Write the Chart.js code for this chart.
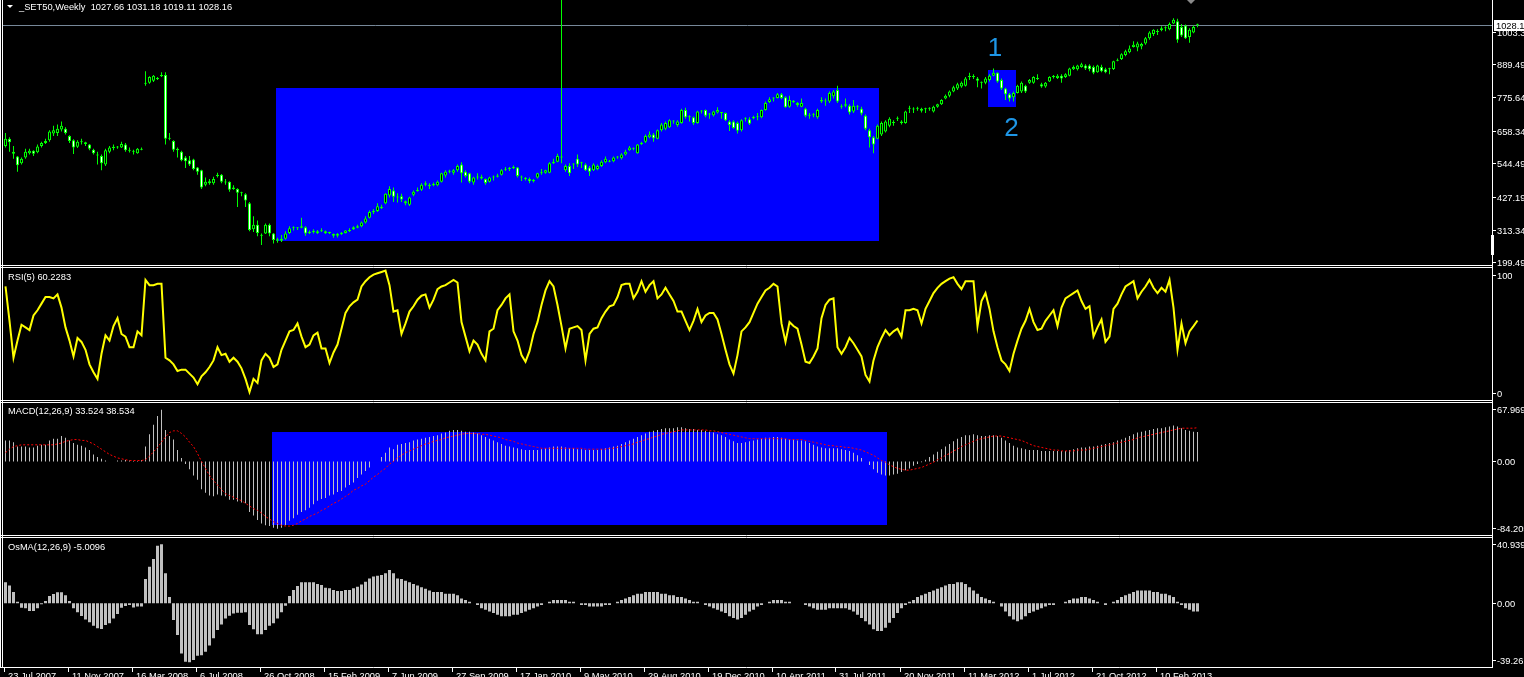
<!DOCTYPE html>
<html>
<head>
<meta charset="utf-8">
<script src="https://cdn.jsdelivr.net/npm/chart.js"></script>
<style>
  html, body { margin: 0; padding: 0; background: #000; overflow: hidden; }
  .pane { position: absolute; left: 0; width: 1524px; }
  canvas { display: block; }
</style>
</head>
<body>
  <div class="pane" style="top:0;height:266px"><canvas id="mainChart" width="1524" height="266"></canvas></div>
  <div class="pane" style="top:266px;height:136px"><canvas id="rsiChart" width="1524" height="136"></canvas></div>
  <div class="pane" style="top:402px;height:134px"><canvas id="macdChart" width="1524" height="134"></canvas></div>
  <div class="pane" style="top:536px;height:141px"><canvas id="osmaChart" width="1524" height="141"></canvas></div>
<script>
// weekly SET50 bars (one value per week)
var dateLabels = ['23 Jul 2007', '11 Nov 2007', '16 Mar 2008', '6 Jul 2008', '26 Oct 2008', '15 Feb 2009',
  '7 Jun 2009', '27 Sep 2009', '17 Jan 2010', '9 May 2010', '29 Aug 2010', '19 Dec 2010', '10 Apr 2011',
  '31 Jul 2011', '20 Nov 2011', '11 Mar 2012', '1 Jul 2012', '21 Oct 2012', '10 Feb 2013'];

var opens = [
  605,630,585,568,545,565,580,588,583,605, 615,625,648,650,662,665,640,625,602,620,
  618,610,592,575,570,540,585,598,600,600, 610,588,588,580,592,825,825,832,842,848,
  852,630,622,595,585,565,555,558,530,520, 470,475,475,500,505,480,480,455,455,442,
  437,405,315,330,295,300,330,300,275,275, 282,302,318,320,320,322,302,306,302,308,
  308,302,298,292,298,302,308,315,320,325, 338,355,375,378,392,405,432,450,428,430,
  412,400,435,448,452,470,470,468,468,480, 502,515,512,520,540,515,510,478,495,492,
  490,480,495,498,505,522,525,528,530,497, 492,490,482,495,510,512,512,545,550,565,
  520,535,540,560,545,540,530,520,525,535, 548,552,552,565,562,575,590,597,580,612,
  620,635,645,630,660,665,670,690,678,685, 730,705,705,685,725,730,715,712,722,720,
  720,690,690,685,660,700,698,702,705,705, 730,758,770,772,785,775,742,758,755,742,
  735,710,712,705,760,760,760,778,800,742, 745,745,725,740,735,710,660,635,630,645,
  655,675,685,700,685,685,735,732,735,728, 733,735,725,742,750,770,780,795,805,812,
  815,845,845,840,825,825,835,850,860,835, 805,785,775,790,795,815,825,825,838,820,
  812,830,845,842,850,845,850,872,872,880, 885,885,880,862,880,872,872,873,902,908,
  922,932,950,948,952,962,980,995,1002,1008, 1015,1012,1032,1040,1020,1025,985,1000,1027.66];

var highs = [
  650,635,605,570,565,595,595,590,610,620, 630,660,675,680,690,670,642,628,625,630,
  620,612,595,585,575,595,605,610,605,620, 615,600,592,598,600,865,848,852,845,862,
  862,650,625,600,588,570,570,560,532,522, 495,490,498,512,507,490,482,468,458,445,
  440,410,360,345,300,335,335,302,285,295, 308,325,325,322,355,325,310,315,312,318,
  310,306,300,302,305,312,318,325,330,342, 360,380,385,405,400,440,465,460,440,438,
  415,428,450,460,475,482,475,478,485,512, 520,522,525,540,548,520,512,498,510,505,
  492,498,502,508,525,532,532,537,532,502, 497,495,490,512,525,522,548,560,578,1400,
  540,545,545,575,550,545,535,545,540,555, 568,556,568,570,580,592,605,600,612,620,
  645,655,650,662,685,690,698,695,695,735, 738,712,708,728,730,732,720,728,740,722,
  722,695,695,690,698,705,705,710,720,732, 760,775,775,790,790,778,780,765,758,770,
  738,720,720,735,775,770,795,800,815,750, 770,750,765,748,742,715,665,640,680,690,
  695,705,695,708,695,728,745,740,742,738, 738,740,745,752,768,784,798,815,825,830,
  845,860,855,845,830,845,855,875,862,840, 808,790,795,818,830,818,838,848,855,825,
  828,848,852,855,855,858,878,885,888,895, 890,890,885,888,888,878,878,902,910,928,
  940,955,970,968,965,985,1005,1012,1012,1022, 1022,1035,1050,1048,1030,1028,1015,1025,1031.18];

var lows = [
  600,585,560,515,540,560,575,570,580,600, 612,620,640,640,655,645,615,577,598,610,
  605,590,575,540,520,535,580,590,595,598, 585,582,575,578,590,815,822,828,835,845,
  610,625,585,565,552,528,535,520,505,455, 465,470,470,495,475,470,445,452,392,430,
  392,308,305,290,260,298,290,265,268,270, 278,298,310,312,318,292,298,300,298,305,
  298,298,285,286,295,300,305,312,318,322, 335,352,368,375,385,402,425,410,408,410,
  398,396,430,445,448,465,455,465,465,478, 495,510,505,515,478,495,475,470,488,488,
  470,478,485,495,502,518,518,525,495,483, 485,475,478,492,505,508,510,542,548,545,
  515,500,525,532,528,518,500,518,520,532, 545,548,548,560,558,572,588,590,578,608,
  615,632,620,628,655,660,668,682,672,682, 700,690,678,682,718,705,700,708,718,700,
  692,657,665,648,655,690,678,698,695,702, 728,755,760,770,768,738,738,755,742,740,
  705,700,705,700,755,745,755,770,755,735, 740,715,720,730,712,660,600,580,628,640,
  652,670,675,692,680,682,720,720,728,722, 720,728,722,738,748,768,775,792,800,808,
  812,835,838,810,805,820,830,848,825,800, 765,760,760,788,790,790,822,822,835,808,
  808,828,840,838,825,842,848,870,868,878, 870,865,855,860,862,858,855,870,900,905,
  918,928,948,935,942,958,975,988,992,1005, 1005,1008,1030,965,985,978,965,998,1019.11];

var closes = [
  630,618,578,538,560,585,588,578,603,615, 622,655,660,665,675,650,622,600,620,618,
  612,595,580,572,545,590,600,602,600,612, 590,592,585,595,595,822,845,850,838,852,
  630,630,592,590,555,552,540,525,515,460, 480,482,490,505,480,478,452,460,442,440,
  415,312,330,302,292,330,300,277,280,282, 300,318,320,318,325,300,306,305,308,310,
  302,303,292,298,302,310,312,322,325,338, 352,375,378,395,388,438,455,428,425,418,
  405,425,445,450,470,475,465,472,480,510, 515,515,520,535,510,500,480,495,495,498,
  476,495,496,502,520,525,525,530,500,495, 490,482,486,510,510,520,545,550,570,565,
  535,510,540,540,545,520,515,540,535,550, 560,550,565,565,575,585,600,595,610,615,
  640,645,632,660,680,685,695,690,690,730, 705,705,685,725,725,710,715,725,730,720,
  695,678,668,658,695,700,682,706,705,730, 755,768,770,785,772,740,765,760,748,755,
  710,710,712,730,765,762,790,795,760,742, 750,722,745,740,718,665,635,610,675,685,
  690,700,688,700,690,725,735,733,735,735, 733,735,742,750,765,780,795,810,820,825,
  840,845,845,832,825,840,850,860,830,805, 785,770,790,815,825,795,835,845,842,812,
  825,845,845,850,840,855,875,880,885,890, 875,872,860,885,865,862,873,900,905,925,
  935,945,958,962,960,980,1000,1010,1005,1015, 1015,1030,1045,975,990,980,1010,1020,1028.16];

var rsiValues = [
  86,60,32,45,57,55,53,64,68,73, 78,78,77,80,70,55,45,33,47,44,
  38,27,21,16,35,49,45,56,62,50, 48,40,40,52,49,91,87,87,88,88,
  32,30,27,22,23,23,20,17,12,18, 21,25,30,40,34,35,29,32,29,24,
  16,6,16,13,30,35,32,25,27,38, 45,52,53,58,48,40,42,49,51,39,
  39,28,36,42,54,66,71,74,76,86, 90,93,95,96,97,98,87,67,68,50,
  58,67,71,76,79,80,70,76,84,86, 87,89,91,89,59,48,37,45,42,35,
  30,52,54,68,72,77,80,52,45,34, 29,37,50,59,72,83,90,86,72,56,
  39,54,55,56,53,30,50,54,55,62, 67,71,72,78,87,88,88,77,82,90,
  82,87,90,77,80,85,80,75,67,67, 60,53,60,69,59,64,66,66,61,50,
  38,27,20,34,52,55,59,66,73,78, 83,85,88,86,58,44,59,56,54,42,
  29,28,33,39,62,72,76,77,40,35, 40,47,43,38,33,19,14,30,40,47,
  53,49,52,54,48,68,68,69,68,58, 69,75,81,85,88,90,92,93,88,84,
  90,90,90,56,75,81,69,52,40,30, 27,22,35,45,54,60,69,59,53,54,
  60,64,68,56,70,77,79,81,83,75, 69,71,48,55,61,44,48,69,73,80,
  86,88,90,77,82,86,91,85,81,85, 82,91,70,38,58,43,52,56,60.2283];

var macdValues = [
  24,24,22,17,17,17,16,16,18,19, 19,24,26,26,29,27,24,21,19,18,
  16,13,8,5,3,1,0,0,1,1, 1.5,1,0.5,0.5,1.5,17,31,42,52,59,
  36,29,25,13,4,-3,-9,-16,-21,-32, -36,-39,-40,-38,-39,-40,-44,-44,-46,-47,
  -48,-58,-62,-67,-71,-73,-74,-76,-77,-76, -73,-68,-65,-61,-58,-56,-53,-49,-45,-43,
  -42,-39,-38,-35,-34,-30,-27,-24,-19,-15, -11,-7,0,0,5,10,16,14,19,20,
  21,22,24,25,26,27,28,29,30,32, 33,35,36,36,35,34,34,33,32,30,
  28,26,24,22,20,18,17,16,15,14, 13,13,13,13,14,15,16,17,17,17,
  16,15,15,14,14,13,13,13,13,14, 15,16,17,18,20,22,24,26,28,30,
  32,34,35,36,37,38,38,38,39,39, 38,37,37,36,36,35,34,33,31,30,
  28,25,23,21,21,22,23,24,25,26, 27,27,28,28,27,26,25,25,24,24,
  23,21,19,17,16,15,15,15,15,14, 13,12,10,7,4,0,-4,-9,-13,-15,
  -16,-16,-15,-14,-12,-10,-8,-5,-3,-1, 2,5,8,11,14,17,20,23,26,28,
  30,30,31,30,29,29,30,30,29,27, 24,21,18,16,15,14,13,13,13,12,
  12,12,12,12,12,12,13,14,15,16, 16,17,17,18,19,20,21,22,24,25,
  27,29,31,33,34,35,36,37,38,38, 39,40,41,40,38,36,35,34,33.524];

var signalValues = [
  10,14,17,18,19,19,19,19,19,19, 19,19,19,20,21,23,24,25,25,24,
  24,22,20,17,14,11,8,6,4,3, 2,1,1,1,1,2,6,11,16,22,
  28,33,35,35,32,28,22,17,9,0, -8,-16,-22,-27,-32,-37,-39,-41,-43,-45,
  -48,-51,-54,-56,-59,-63,-66,-69,-71,-73, -74,-74,-73,-71,-68,-66,-63,-61,-59,-56,
  -54,-51,-48,-46,-43,-40,-37,-33,-31,-28, -26,-22,-18,-15,-11,-8,-3,0,4,7,
  10,12,14,16,18,20,21,23,24,25, 27,28,29,30,31,32,32,32,32,31,
  31,30,29,28,27,25,24,23,21,20, 19,18,17,16,15,15,15,15,15,15,
  15,15,15,15,15,14,14,14,14,14, 14,15,15,16,17,18,19,20,22,23,
  25,26,28,29,31,32,33,34,35,36, 36,36,36,36,36,36,35,35,34,33,
  32,31,30,29,28,27,26,26,26,26, 26,26,26,26,26,26,25,25,25,25,
  24,23,22,21,20,19,18,18,17,17, 16,16,15,14,13,11,9,7,4,1,
  -1,-4,-6,-8,-9,-10,-10,-9,-8,-7, -5,-3,-1,2,4,7,9,12,14,17,
  19,21,23,25,26,27,28,29,29,29, 28,27,26,25,24,22,20,18,17,16,
  15,14,13,13,12,12,12,12,13,13, 13,14,15,16,17,18,19,20,21,22,
  23,24,25,27,28,29,30,31,32,33, 34,35,36,37,38,38,38,38,38.534];

var osmaValues = [
  13,11,7,1,-2.7,-3,-4.7,-4.7,-3,-0.6, 1.4,4.5,5.8,6.8,6.8,5,1.4,-3,-5.5,-7.8,
  -10,-11.7,-13.8,-15.4,-15.8,-13.4,-12.3,-9.3,-6.6,-2.7, -1.6,-1,-2.5,-2,-2,15,22.6,27.4,35.6,36.4,
  18.5,4,-10.3,-19.5,-30.9,-36,-36.4,-35,-32.3,-32, -29.8,-26,-21.6,-16.5,-13,-9.3,-7.6,-6.2,-5.8,-5.8,
  -5.5,-13.4,-16,-19,-19,-16.5,-13.8,-12.3,-9.3,-5.5, -1.4,4.5,8.2,10.7,13,13,13,13,12,11.3,
  9.7,9.3,8.2,7.6,7.6,8.2,8.2,9.3,10.3,11.7, 13.4,15.4,16.5,17,17.5,18.5,20.6,18.5,15.4,15,
  14,13,12,11,10,9,8,7,7,7, 6,6,6,5,3,2,1,0,-1,-3,
  -4,-5,-6,-7,-8,-8,-8,-7,-7,-6, -5,-4,-3,-2,-1,0,1,2,2,2,
  2,1,1,0,-1,-1,-2,-2,-2,-2, -1,-1,0,1,2,3,4,5,6,6,
  7,7,7,7,6,6,5,5,4,4, 3,2,1,1,0,-1,-2,-3,-4,-5,
  -6,-8,-9,-10,-9,-7,-5,-4,-2,-1, 0,1,2,2,2,1,1,0,0,0,
  -1,-2,-3,-4,-4,-4,-3,-3,-3,-3, -3,-4,-5,-7,-9,-11,-13,-16,-17,-17,
  -15,-12,-9,-6,-3,-1,1,2,4,5, 6,7,8,9,10,11,12,12,13,13,
  12,10,8,6,4,3,2,1,0,-2, -5,-8,-10,-11,-10,-8,-6,-5,-4,-3,
  -2,-1,-1,0,0,1,2,3,3,4, 4,3,2,1,0,-1,0,1,2,4,
  5,6,7,8,8,8,8,7,7,6, 6,5,4,1,-1,-3,-4,-5,-5.0096];

// right-hand scale labels
var priceTicks = [1003.3, 889.49, 775.64, 658.34, 544.49, 427.19, 313.34, 199.49];
var priceTickLabels = ['1003.3', '889.49', '775.64', '658.34', '544.49', '427.19', '313.34', '199.49'];
var rsiTicks = [100, 0];
var rsiTickLabels = ['100', '0'];
var macdTicks = [67.969, 0, -84.205];
var macdTickLabels = ['67.969', '0.00', '-84.205'];
var osmaTicks = [40.939, 0, -39.261];
var osmaTickLabels = ['40.939', '0.00', '-39.261'];

// drawn objects on the chart (bar index / value space)
var priceBoxes = [{ from: 67.6, to: 218.4, high: 808, low: 274 }, { from: 245.6, to: 252.6, high: 870, low: 741 }];
var macdBoxes = [{ from: 66.6, to: 220.4, high: 33.6, low: -72.8 }];
var waveMarks = [{ text: '1', idx: 247.4, value: 950 }, { text: '2', idx: 251.5, value: 673 }];

var SLOTS = 372; // MT4 leaves empty space at the right
var slots = [];
for (var s = 0; s < SLOTS; s++) slots.push(s);

var FONT = '9.3px "Liberation Sans", Arial, sans-serif';
var LIME = '#00ff00';
var TEXT = '#ffffff';
var last = closes.length - 1;

// white pane frames (page coordinates, translated per canvas)
function drawFrame(chart, top) {
  var ctx = chart.ctx;
  ctx.save();
  ctx.strokeStyle = '#ffffff';
  ctx.lineWidth = 1;
  ctx.beginPath();
  [265.5, 267.5, 400.5, 402.5, 535.5, 537.5, 667.5].forEach(function (y) {
    ctx.moveTo(0, y - top); ctx.lineTo(1493, y - top);
  });
  [0.5, 2.5, 1492.5].forEach(function (x) {
    ctx.moveTo(x, -top); ctx.lineTo(x, 668 - top);
  });
  ctx.stroke();
  ctx.restore();
}

function drawScaleLabels(chart, ticks, labels, margin) {
  var ctx = chart.ctx, area = chart.chartArea, y = chart.scales.y;
  ctx.save();
  ctx.font = FONT;
  ctx.fillStyle = TEXT;
  ctx.textAlign = 'left';
  ctx.textBaseline = 'middle';
  ticks.forEach(function (v, k) {
    var py = Math.round(y.getPixelForValue(v));
    py = Math.min(Math.max(py, area.top + margin), area.bottom - margin);
    ctx.fillRect(1493, py, 3, 1);
    ctx.fillText(labels[k], 1497, py + 1);
  });
  ctx.restore();
}

function drawTitle(chart, text, x, y) {
  var ctx = chart.ctx;
  ctx.save();
  ctx.font = FONT;
  ctx.fillStyle = TEXT;
  ctx.textAlign = 'left';
  ctx.textBaseline = 'middle';
  ctx.fillText(text, x, y);
  ctx.restore();
}

function drawBoxes(chart, boxes) {
  var ctx = chart.ctx, x = chart.scales.x, y = chart.scales.y;
  ctx.save();
  ctx.fillStyle = '#0000ff';
  boxes.forEach(function (b) {
    var x1 = Math.round(x.getPixelForValue(b.from)), x2 = Math.round(x.getPixelForValue(b.to));
    var y1 = Math.round(y.getPixelForValue(b.high)), y2 = Math.round(y.getPixelForValue(b.low));
    ctx.fillRect(x1, y1, x2 - x1, y2 - y1);
  });
  ctx.restore();
}

function baseOptions(padTop, padBottom, min, max) {
  return {
    responsive: false,
    animation: false,
    events: [],
    layout: { padding: { left: 3.5, right: 32.5, top: padTop, bottom: padBottom } },
    scales: {
      x: { type: 'category', offset: true, display: false, grid: { display: false } },
      y: { display: false, min: min, max: max, grid: { display: false } }
    },
    plugins: { legend: { display: false }, tooltip: { enabled: false } }
  };
}

// ---- price pane (candles) ----
new Chart(document.getElementById('mainChart'), {
  type: 'bar',
  data: {
    labels: slots,
    datasets: [
      {
        label: 'wick',
        data: highs.map(function (h, i) { return [lows[i], h]; }),
        backgroundColor: LIME,
        borderWidth: 0,
        barThickness: 1,
        inflateAmount: 0,
        grouped: false,
        order: 2
      },
      {
        label: 'body',
        data: opens.map(function (o, i) { return [o, closes[i]]; }),
        backgroundColor: opens.map(function (o, i) { return closes[i] < o ? '#ffffff' : '#000000'; }),
        borderColor: LIME,
        borderWidth: 1,
        borderSkipped: false,
        barThickness: 3,
        minBarLength: 1,
        inflateAmount: 0,
        grouped: false,
        order: 1
      }
    ]
  },
  options: baseOptions(0, 1, 190.1, 1113.7),
  plugins: [{
    id: 'priceDecor',
    beforeDatasetsDraw: function (chart) {
      drawBoxes(chart, priceBoxes);
      var ctx = chart.ctx;
      var by = Math.round(chart.scales.y.getPixelForValue(closes[last])) + 0.5;
      ctx.save();
      ctx.strokeStyle = '#778899';
      ctx.beginPath(); ctx.moveTo(3, by); ctx.lineTo(1492, by); ctx.stroke();
      ctx.restore();
    },
    afterDraw: function (chart) {
      var ctx = chart.ctx, x = chart.scales.x, y = chart.scales.y;
      drawFrame(chart, 0);
      drawScaleLabels(chart, priceTicks, priceTickLabels, 0);
      // last price marker on the scale
      var by = Math.round(y.getPixelForValue(closes[last]));
      ctx.save();
      ctx.fillStyle = '#ffffff';
      ctx.fillRect(1494, by - 5, 30, 11);
      ctx.fillStyle = '#000000';
      ctx.font = FONT;
      ctx.textBaseline = 'middle';
      ctx.fillText(closes[last].toFixed(2), 1496, by + 1);
      // small scroll marker and shift arrow
      ctx.fillStyle = '#ffffff';
      ctx.fillRect(1491, 235, 3, 20);
      ctx.fillStyle = '#8a8a8a';
      ctx.beginPath(); ctx.moveTo(1187, 0); ctx.lineTo(1195, 0); ctx.lineTo(1191, 4); ctx.closePath(); ctx.fill();
      // chart title with the triangle
      ctx.fillStyle = '#ffffff';
      ctx.beginPath(); ctx.moveTo(7, 5); ctx.lineTo(13, 5); ctx.lineTo(10, 8); ctx.closePath(); ctx.fill();
      ctx.restore();
      drawTitle(chart, '_SET50,Weekly  ' + opens[last] + ' ' + highs[last] + ' ' + lows[last] + ' ' + closes[last], 19, 7);
      // wave labels
      ctx.save();
      ctx.font = '26px "Liberation Sans", Arial, sans-serif';
      ctx.fillStyle = '#1e96e6';
      ctx.textAlign = 'center';
      ctx.textBaseline = 'alphabetic';
      waveMarks.forEach(function (m) {
        ctx.fillText(m.text, x.getPixelForValue(m.idx), y.getPixelForValue(m.value) + 9.5);
      });
      ctx.restore();
    }
  }]
});

// ---- RSI pane ----
new Chart(document.getElementById('rsiChart'), {
  type: 'bar',
  data: {
    labels: slots,
    datasets: [{
      type: 'line',
      label: 'RSI(5)',
      data: rsiValues,
      borderColor: '#ffff00',
      borderWidth: 2,
      pointRadius: 0,
      tension: 0
    }]
  },
  options: baseOptions(2, 2, 0, 100),
  plugins: [{
    id: 'rsiDecor',
    afterDraw: function (chart) {
      drawFrame(chart, 266);
      drawScaleLabels(chart, rsiTicks, rsiTickLabels, 7);
      drawTitle(chart, 'RSI(5) ' + rsiValues[last], 8, 11);
    }
  }]
});

// ---- MACD pane ----
new Chart(document.getElementById('macdChart'), {
  type: 'bar',
  data: {
    labels: slots,
    datasets: [
      {
        type: 'line',
        label: 'Signal',
        data: signalValues,
        borderColor: '#ff0000',
        borderWidth: 1,
        borderDash: [2, 2],
        pointRadius: 0,
        tension: 0,
        order: 1
      },
      {
        label: 'MACD',
        data: macdValues,
        backgroundColor: '#c0c0c0',
        borderWidth: 0,
        barThickness: 1,
        inflateAmount: 0,
        order: 2
      }
    ]
  },
  options: baseOptions(0, 1, -84.205, 67.969),
  plugins: [{
    id: 'macdDecor',
    beforeDatasetsDraw: function (chart) { drawBoxes(chart, macdBoxes); },
    afterDraw: function (chart) {
      drawFrame(chart, 402);
      drawScaleLabels(chart, macdTicks, macdTickLabels, 7);
      drawTitle(chart, 'MACD(12,26,9) ' + macdValues[last] + ' ' + signalValues[last], 8, 9);
    }
  }]
});

// ---- OsMA pane + time axis ----
new Chart(document.getElementById('osmaChart'), {
  type: 'bar',
  data: {
    labels: slots,
    datasets: [{
      label: 'OsMA',
      data: osmaValues,
      backgroundColor: '#c0c0c0',
      borderWidth: 0,
      barThickness: 3,
      inflateAmount: 0
    }]
  },
  options: baseOptions(1, 10, -39.261, 40.939),
  plugins: [{
    id: 'osmaDecor',
    afterDraw: function (chart) {
      var ctx = chart.ctx, x = chart.scales.x;
      drawFrame(chart, 536);
      drawScaleLabels(chart, osmaTicks, osmaTickLabels, 7);
      drawTitle(chart, 'OsMA(12,26,9) ' + osmaValues[last], 8, 11);
      ctx.save();
      ctx.font = FONT;
      ctx.fillStyle = TEXT;
      ctx.textAlign = 'left';
      ctx.textBaseline = 'top';
      dateLabels.forEach(function (t, k) {
        var px = Math.round(x.getPixelForValue(k * 16)) - 2;
        ctx.fillRect(px, 132, 1, 4);
        ctx.fillText(t, px + 4, 136);
      });
      ctx.restore();
    }
  }]
});
</script>
</body>
</html>
